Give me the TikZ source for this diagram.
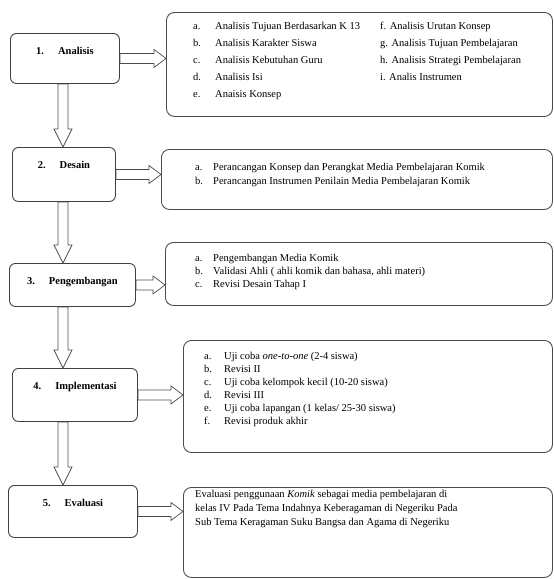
\documentclass[tikz,border=0pt]{standalone}
\usepackage{fontspec}
\setmainfont{Liberation Serif}
\usetikzlibrary{calc}

\begin{document}
\begin{tikzpicture}[x=1pt,y=-1pt,
  stage/.style={draw=black!75, line width=0.9pt, rounded corners=6pt, anchor=north west,
    inner xsep=0pt, inner ysep=12pt, text height=9pt, font=\fontsize{10.5}{12}\selectfont\bfseries},
  panel/.style={draw=black!70, line width=0.9pt, rounded corners=8pt, anchor=north west, inner sep=0pt},
  items/.style={anchor=north west, inner sep=0pt, align=left, font=\fontsize{10.5}{13}\selectfont},
  harrow/.style={draw=black!70, line width=0.7pt,
    to path={let \p1=(\tikztostart), \p2=(\tikztotarget) in
      (\x1,\y1+5pt) -- (\x2-12pt,\y1+5pt) -- (\x2-12pt,\y1+9pt) -- (\x2,\y1)
      -- (\x2-12pt,\y1-9pt) -- (\x2-12pt,\y1-5pt) -- (\x1,\y1-5pt) -- cycle}},
  varrow/.style={draw=black!70, line width=0.7pt,
    to path={let \p1=(\tikztostart), \p2=(\tikztotarget) in
      (\x1+5pt,\y1) -- (\x1+5pt,\y2+18pt) -- (\x1+9pt,\y2+18pt) -- (\x1,\y2)
      -- (\x1-9pt,\y2+18pt) -- (\x1-5pt,\y2+18pt) -- (\x1-5pt,\y1) -- cycle}}]

\useasboundingbox (0,0) rectangle (554,579);

\node[stage, minimum width=109pt, text depth=17pt] (n1) at (10,33) {1.\hspace{14pt}Analisis};
\node[stage, minimum width=103pt, text depth=21pt] (n2) at (12,147) {2.\hspace{14pt}Desain};
\node[stage, minimum width=126pt, text depth=10pt] (n3) at (9,263) {3.\hspace{14pt}Pengembangan};
\node[stage, minimum width=125pt, text depth=20pt] (n4) at (12,368) {4.\hspace{14pt}Implementasi};
\node[stage, minimum width=129pt, text depth=19pt] (n5) at (8,485) {5.\hspace{14pt}Evaluasi};

\node[panel, minimum width=386pt, minimum height=104pt] (r1) at (166,12) {};
\node[panel, minimum width=391pt, minimum height=60pt] (r2) at (161,149) {};
\node[panel, minimum width=387pt, minimum height=63pt] (r3) at (165,242) {};
\node[panel, minimum width=369pt, minimum height=112pt] (r4) at (183,340) {};
\node[panel, minimum width=369pt, minimum height=90pt] (r5) at (183,487) {};

\node[items, font=\fontsize{10.5}{17}\selectfont] (t1) at (193,22) {%
  \makebox[22pt][l]{a.}Analisis Tujuan Berdasarkan K 13\\
  \makebox[22pt][l]{b.}Analisis Karakter Siswa\\
  \makebox[22pt][l]{c.}Analisis Kebutuhan Guru\\
  \makebox[22pt][l]{d.}Analisis Isi\\
  \makebox[22pt][l]{e.}Anaisis Konsep};
\node[items, font=\fontsize{10.5}{17}\selectfont] (t1b) at (380,22) {%
  f. Analisis Urutan Konsep\\
  g. Analisis Tujuan Pembelajaran\\
  h. Analisis Strategi Pembelajaran\\
  i. Analis Instrumen};
\node[items, font=\fontsize{10.5}{14}\selectfont] (t2) at (195,163) {%
  \makebox[18pt][l]{a.}Perancangan Konsep dan Perangkat Media Pembelajaran Komik\\
  \makebox[18pt][l]{b.}Perancangan Instrumen Penilain Media Pembelajaran Komik};
\node[items] (t3) at (195,254) {%
  \makebox[18pt][l]{a.}Pengembangan Media Komik\\
  \makebox[18pt][l]{b.}Validasi Ahli ( ahli komik dan bahasa, ahli materi)\\
  \makebox[18pt][l]{c.}Revisi Desain Tahap I};
\node[items] (t4) at (204,352) {%
  \makebox[20pt][l]{a.}Uji coba \emph{one-to-one} (2-4 siswa)\\
  \makebox[20pt][l]{b.}Revisi II\\
  \makebox[20pt][l]{c.}Uji coba kelompok kecil (10-20 siswa)\\
  \makebox[20pt][l]{d.}Revisi III\\
  \makebox[20pt][l]{e.}Uji coba lapangan (1 kelas/ 25-30 siswa)\\
  \makebox[20pt][l]{f.}Revisi produk akhir};
\node[items, font=\fontsize{10.5}{14}\selectfont] (t5) at (195,490) {%
  Evaluasi penggunaan \emph{Komik} sebagai media pembelajaran di\\
  kelas IV Pada Tema Indahnya Keberagaman di Negeriku Pada\\
  Sub Tema Keragaman Suku Bangsa dan Agama di Negeriku};

\coordinate (ax) at (63,0);

\draw[harrow] (n1.east) to (n1.east -| r1.west);
\draw[harrow] (n2.east) to (n2.east -| r2.west);
\draw[harrow] (n3.east) to (n3.east -| r3.west);
\draw[harrow] (n4.east) to (n4.east -| r4.west);
\draw[harrow] (n5.east) to (n5.east -| r5.west);

\draw[varrow] (ax |- n1.south) to (ax |- n2.north);
\draw[varrow] (ax |- n2.south) to (ax |- n3.north);
\draw[varrow] (ax |- n3.south) to (ax |- n4.north);
\draw[varrow] (ax |- n4.south) to (ax |- n5.north);

\end{tikzpicture}
\end{document}
